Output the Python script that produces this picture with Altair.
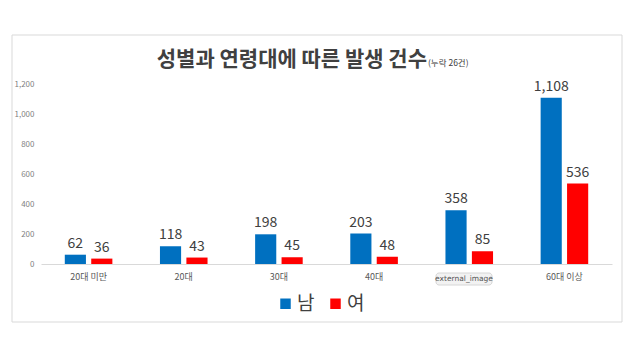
import altair as alt
import pandas as pd

categories = ["20대 미만", "20대", "30대", "40대", "50대", "60대 이상"]
male = [62, 118, 198, 203, 358, 1108]
female = [36, 43, 45, 48, 85, 536]
genders = ["남", "여"]
colors = ["#0070C0", "#FF0000"]
y_ticks = [0, 200, 400, 600, 800, 1000, 1200]
title_text = "성별과 연령대에 따른 발생 건수"
subtitle_text = "(누락 26건)"
badge_text = "external_image"

FONT = "Noto Sans CJK KR"

rows = []
for c, m, f in zip(categories, male, female):
    rows.append({"cat": c, "gender": genders[0], "value": m})
    rows.append({"cat": c, "gender": genders[1], "value": f})
df = pd.DataFrame(rows)
one = pd.DataFrame({"k": [0]})

x_enc = alt.X(
    "cat:N", sort=categories,
    scale=alt.Scale(paddingInner=0.5, paddingOuter=0.25),
    axis=alt.Axis(title=None, labelAngle=0, labelFontSize=9, labelColor="#595959",
                  labelFont=FONT, domainColor="#d9d9d9", ticks=False, labelPadding=8,
                  labelExpr="datum.value == '50대' ? '' : datum.value"),
)
xoff = alt.XOffset("gender:N", sort=genders, scale=alt.Scale(paddingInner=0.2))
y_enc = alt.Y(
    "value:Q", scale=alt.Scale(domain=[0, 1200]),
    axis=alt.Axis(title=None, values=y_ticks, format=",.0f", grid=False, domain=False,
                  ticks=False, labelFontSize=8, labelColor="#7f7f7f", labelPadding=7,
                  labelFont=FONT, labelOverlap=False),
)

border = alt.Chart(one).mark_rect(fillOpacity=0, stroke="#d9d9d9", strokeWidth=1).encode(
    x=alt.value(-29), x2=alt.value(581), y=alt.value(-49), y2=alt.value(238)
)

bars = alt.Chart(df).mark_bar().encode(
    x=x_enc, xOffset=xoff, y=y_enc,
    color=alt.Color("gender:N", scale=alt.Scale(domain=genders, range=colors),
                    legend=alt.Legend(orient="none", legendX=235, legendY=210,
                                      direction="horizontal", title=None,
                                      symbolType="square", symbolSize=110,
                                      symbolStrokeWidth=0, labelFontSize=19,
                                      labelColor="#404040", labelFont=FONT,
                                      columnPadding=11, labelOffset=2)),
)

labels = alt.Chart(df).mark_text(dy=-4, baseline="bottom", fontSize=14, color="#404040",
                                 font=FONT).encode(
    x=x_enc, xOffset=xoff, y=y_enc,
    text=alt.Text("value:Q", format=","),
)

title = alt.Chart(one).mark_text(align="right", baseline="alphabetic", fontSize=21,
                                 fontWeight=600, color="#404040", font=FONT).encode(
    x=alt.value(386), y=alt.value(-18), text=alt.value(title_text)
)
subtitle = alt.Chart(one).mark_text(align="left", baseline="alphabetic", fontSize=8.5,
                                    color="#404040", font=FONT).encode(
    x=alt.value(387), y=alt.value(-18), text=alt.value(subtitle_text)
)

badge_rect = alt.Chart(one).mark_rect(fill="#f2f2f2", stroke="#d6d6d6", cornerRadius=3).encode(
    x=alt.value(395), x2=alt.value(451), y=alt.value(189), y2=alt.value(201)
)
badge = alt.Chart(one).mark_text(fontSize=7.5, color="#555555", font="DejaVu Sans").encode(
    x=alt.value(423), y=alt.value(195), text=alt.value(badge_text)
)

chart = alt.layer(border, bars, labels, title, subtitle, badge_rect, badge).properties(
    width=571, height=180,
    autosize=alt.AutoSizeParams(type="none"),
    padding={"left": 33, "top": 76, "right": 20, "bottom": 80},
    background="white",
).configure_view(stroke=None)

chart.save("out.html", embed_options={"renderer": "svg", "actions": False})
